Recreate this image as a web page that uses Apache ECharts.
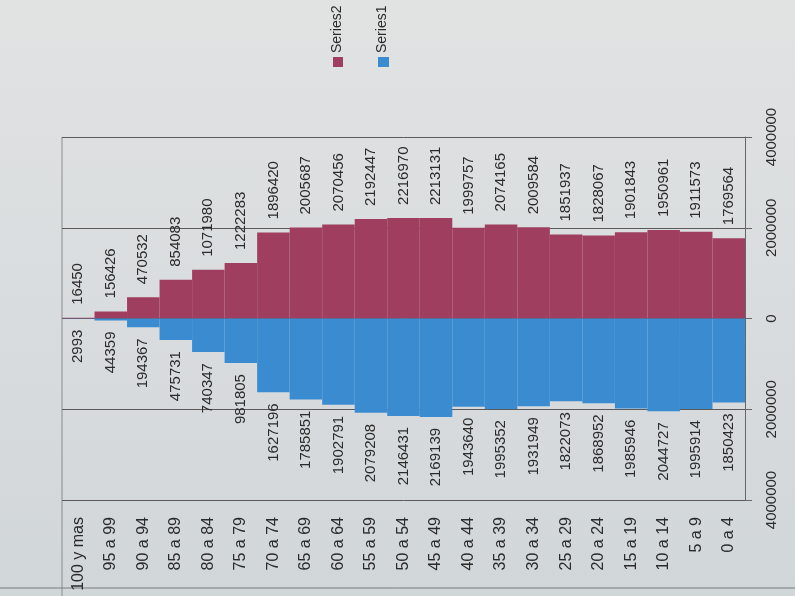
<!DOCTYPE html>
<html>
<head>
<meta charset="utf-8">
<script src="https://cdn.jsdelivr.net/npm/echarts@6/dist/echarts.min.js"></script>
<style>
  html, body { margin: 0; padding: 0; }
  #chart { width: 795px; height: 596px; }
</style>
</head>
<body>
<div id="chart"></div>
<script>
// age groups, oldest first (left to right in the picture)
const categories = [
  '100 y mas', '95 a 99', '90 a 94', '85 a 89', '80 a 84', '75 a 79', '70 a 74',
  '65 a 69', '60 a 64', '55 a 59', '50 a 54', '45 a 49', '40 a 44', '35 a 39',
  '30 a 34', '25 a 29', '20 a 24', '15 a 19', '10 a 14', '5 a 9', '0 a 4'
]
// blue, drawn below the zero line
const series1 = [
  2993, 44359, 194367, 475731, 740347, 981805, 1627196,
  1785851, 1902791, 2079208, 2146431, 2169139, 1943640, 1995352,
  1931949, 1822073, 1868952, 1985946, 2044727, 1995914, 1850423
]
// red, drawn above the zero line
const series2 = [
  16450, 156426, 470532, 854083, 1071980, 1222283, 1896420,
  2005687, 2070456, 2192447, 2216970, 2213131, 1999757, 2074165,
  2009584, 1851937, 1828067, 1901843, 1950961, 1911573, 1769564
]
const axisMin = -4000000
const axisMax = 4000000
const axisStep = 2000000

const FONT = '"Liberation Sans", Arial, sans-serif'
const RED = '#a03e5f'
const BLUE = '#3b8bd0'
const TEXT = '#2b2b2b'

const chart = echarts.init(document.getElementById('chart'))
chart.setOption({
  animation: false,
  backgroundColor: new echarts.graphic.LinearGradient(0, 0, 0, 1, [
    { offset: 0, color: '#e1e3e3' },
    { offset: 1, color: '#d1d6d9' },
  ]),
  textStyle: { fontFamily: FONT },
  grid: { left: 62, right: 50, top: 137, bottom: 96 },
  xAxis: {
    type: 'category',
    data: categories,
    axisLine: { show: false, onZero: false },
    axisTick: { show: false },
    axisLabel: {
      rotate: 90,
      interval: 0,
      margin: 17,
      fontSize: 16,
      color: TEXT,
      fontFamily: FONT,
    },
  },
  yAxis: {
    type: 'value',
    position: 'right',
    min: axisMin,
    max: axisMax,
    interval: axisStep,
    axisLine: { show: true, lineStyle: { color: '#666' } },
    axisTick: { show: true, length: 7, lineStyle: { color: '#666' } },
    axisLabel: {
      rotate: 90,
      margin: 19,
      fontSize: 15,
      color: TEXT,
      fontFamily: FONT,
      formatter: v => String(Math.abs(v)),
    },
    splitLine: { show: true, lineStyle: { color: '#5a5a5a', width: 1 } },
  },
  series: [
    {
      name: 'Series2',
      type: 'bar',
      data: series2,
      barGap: '-100%',
      barCategoryGap: '0%',
      itemStyle: { color: RED },
      label: {
        show: true,
        position: 'top',
        rotate: 90,
        align: 'left',
        verticalAlign: 'middle',
        distance: 13,
        fontSize: 15,
        color: TEXT,
        fontFamily: FONT,
      },
    },
    {
      name: 'Series1',
      type: 'bar',
      data: series1.map(v => -v),
      barGap: '-100%',
      barCategoryGap: '0%',
      itemStyle: { color: BLUE },
      label: {
        show: true,
        position: 'bottom',
        rotate: 90,
        align: 'right',
        verticalAlign: 'middle',
        distance: 11,
        fontSize: 15,
        color: TEXT,
        fontFamily: FONT,
        formatter: p => String(Math.abs(p.value)),
      },
    },
  ],
  graphic: [
    // legend, turned like the rest of the picture
    { type: 'rect', left: 333, top: 57, shape: { width: 10, height: 10 }, style: { fill: RED } },
    { type: 'text', x: 337, y: 53, rotation: Math.PI / 2, style: { text: 'Series2', font: '14px ' + FONT, fill: TEXT, align: 'left', verticalAlign: 'middle' } },
    { type: 'rect', left: 378, top: 57, shape: { width: 11, height: 10 }, style: { fill: BLUE } },
    { type: 'text', x: 382, y: 53, rotation: Math.PI / 2, style: { text: 'Series1', font: '14px ' + FONT, fill: TEXT, align: 'left', verticalAlign: 'middle' } },
    // frame lines around the label area
    { type: 'line', shape: { x1: 62, y1: 137, x2: 62, y2: 596 }, style: { stroke: '#8a8c8e', lineWidth: 1 } },
    { type: 'line', shape: { x1: 0, y1: 588, x2: 795, y2: 588 }, style: { stroke: '#7a7c7e', lineWidth: 1 } },
  ],
})
</script>
</body>
</html>
